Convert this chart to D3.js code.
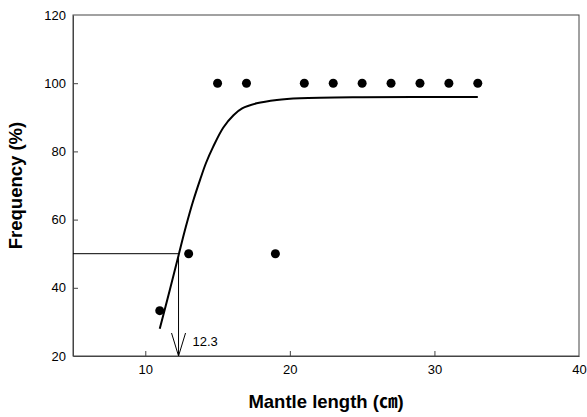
<!DOCTYPE html>
<html>
<head>
<meta charset="utf-8">
<script src="https://cdn.jsdelivr.net/npm/d3@7"></script>
<style>
  body { margin: 0; background: #fff; }
  text { font-family: Arial, "Liberation Sans", "Noto Sans CJK KR", sans-serif; }
</style>
</head>
<body>
<div id="chart"></div>
<script>
// observed frequencies
const obsLength = [11, 13, 15, 17, 19, 21, 23, 25, 27, 29, 31, 33];
const obsFreq   = [33.3, 50, 100, 100, 50, 100, 100, 100, 100, 100, 100, 100];

// fitted curve
const fitLength = [11, 11.7, 12.3, 12.8, 13.3, 13.8, 14.2, 14.7, 15.4, 16.1, 16.7, 17.7, 19.1, 20.7, 25, 33];
const fitFreq   = [28, 39.4, 49.5, 57.8, 65.3, 71.8, 76.6, 81.4, 87, 90.6, 92.6, 94.1, 95.1, 95.6, 95.9, 95.95];

const L50 = 12.3;
const xTicks = [10, 20, 30, 40];
const yTicks = [20, 40, 60, 80, 100, 120];

const width = 587, height = 417;
const margin = { top: 15, right: 8, bottom: 61, left: 73 };

const svg = d3.select("#chart").append("svg")
    .attr("width", width)
    .attr("height", height);

const x = d3.scaleLinear().domain([5, 40]).range([margin.left, width - margin.right]);
const y = d3.scaleLinear().domain([20, 120]).range([height - margin.bottom, margin.top]);

// frame
svg.append("rect")
    .attr("x", x(5)).attr("y", y(120))
    .attr("width", x(40) - x(5)).attr("height", y(20) - y(120))
    .attr("fill", "none").attr("stroke", "#444").attr("stroke-width", 1);

// axes, ticks inside
const xAxis = svg.append("g")
    .attr("transform", `translate(0,${y(20)})`)
    .call(d3.axisBottom(x).tickValues(xTicks).tickSizeInner(-5).tickSizeOuter(0).tickPadding(9));
const yAxis = svg.append("g")
    .attr("transform", `translate(${x(5)},0)`)
    .call(d3.axisLeft(y).tickValues(yTicks).tickSizeInner(-5).tickSizeOuter(0).tickPadding(7));
[xAxis, yAxis].forEach(a => {
    a.select(".domain").attr("stroke", "#444");
    a.selectAll(".tick line").attr("stroke", "#444");
    a.selectAll(".tick text").attr("fill", "#000").style("font-size", "13px")
        .style("font-family", "Arial, 'Liberation Sans', sans-serif");
});
// end labels sit on the frame corners, no tick mark there
yAxis.selectAll(".tick").filter(d => d === 120 || d === 20).select("line").remove();
xAxis.selectAll(".tick").filter(d => d === 40).select("line").remove();

// L50 guide lines
svg.append("line")
    .attr("x1", x(5)).attr("x2", x(L50))
    .attr("y1", y(50)).attr("y2", y(50))
    .attr("stroke", "#000").attr("stroke-width", 1);
svg.append("line")
    .attr("x1", x(L50)).attr("x2", x(L50))
    .attr("y1", y(50)).attr("y2", y(20))
    .attr("stroke", "#000").attr("stroke-width", 1);
svg.append("path")
    .attr("d", `M${x(L50) - 7},${y(20) - 23} L${x(L50)},${y(20)} L${x(L50) + 7},${y(20) - 23}`)
    .attr("fill", "none").attr("stroke", "#000").attr("stroke-width", 1);
svg.append("text")
    .attr("x", x(L50) + 14).attr("y", y(20) - 10)
    .style("font-size", "13px")
    .text(L50.toFixed(1));

// fitted curve
const line = d3.line()
    .x((d, i) => x(fitLength[i]))
    .y(d => y(d))
    .curve(d3.curveCatmullRom.alpha(0.5));
svg.append("path")
    .datum(fitFreq)
    .attr("d", line)
    .attr("fill", "none").attr("stroke", "#000").attr("stroke-width", 2);

// observations
svg.append("g")
    .selectAll("circle")
    .data(obsFreq)
    .enter().append("circle")
    .attr("cx", (d, i) => x(obsLength[i]))
    .attr("cy", d => y(d))
    .attr("r", 4.5)
    .attr("fill", "#000");

// axis titles
svg.append("text")
    .attr("x", (x(5) + x(40)) / 2).attr("y", 408)
    .attr("text-anchor", "middle")
    .style("font-size", "18.5px").style("font-weight", "bold")
    .text("Mantle length (㎝)");
svg.append("text")
    .attr("transform", `translate(22,${(y(20) + y(120)) / 2}) rotate(-90)`)
    .attr("text-anchor", "middle")
    .style("font-size", "18.5px").style("font-weight", "bold")
    .text("Frequency (%)");
</script>
</body>
</html>
